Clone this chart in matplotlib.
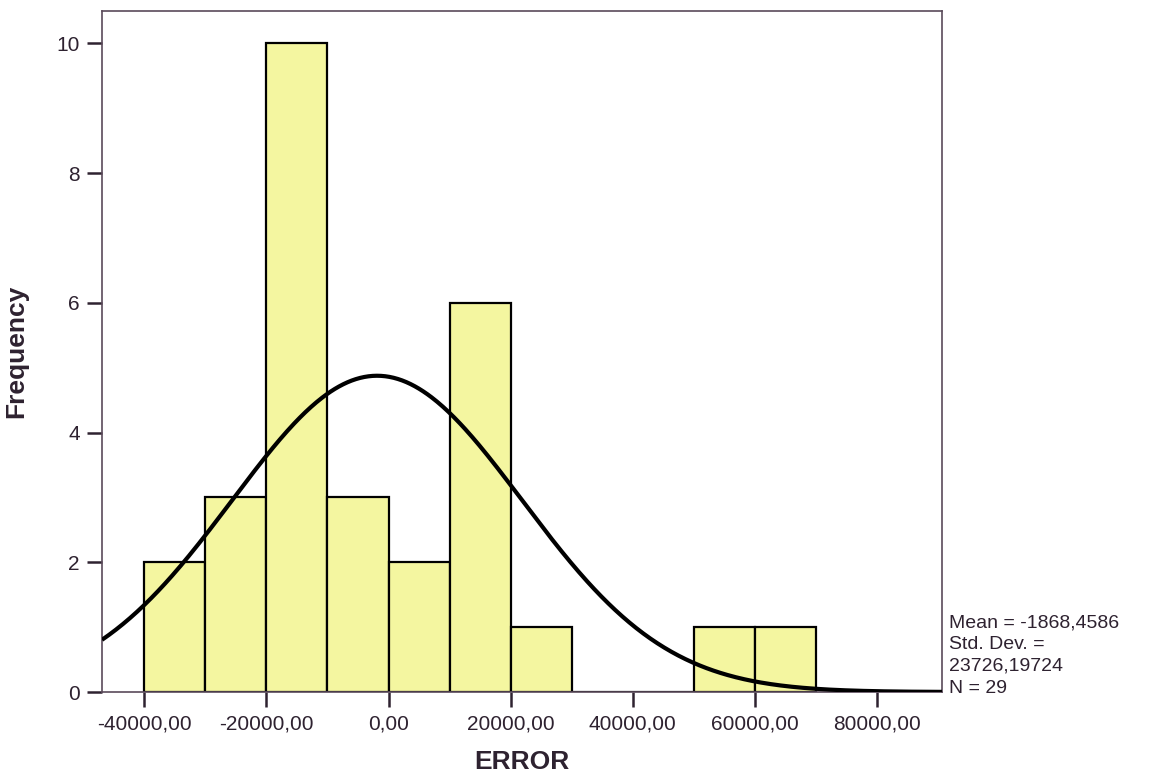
import numpy as np
import matplotlib
matplotlib.use("Agg")
import matplotlib.pyplot as plt
from matplotlib.ticker import FuncFormatter

# histogram of ERROR, bins of width 10000
bin_left = [-40000, -30000, -20000, -10000, 0, 10000, 20000, 30000, 40000, 50000, 60000]
counts = [2, 3, 10, 3, 2, 6, 1, 0, 0, 1, 1]
bin_width = 10000

mean = -1868.4586
std = 23726.19724
n = 29

xticks = [-40000, -20000, 0, 20000, 40000, 60000, 80000]
yticks = [0, 2, 4, 6, 8, 10]

plt.rcParams['font.family'] = ['Liberation Sans', 'DejaVu Sans']
txt = '#2e2230'

fig = plt.figure(figsize=(11.75, 7.78), dpi=100)
ax = fig.add_axes([0.0868, 0.1105, 0.7149, 0.8754])

ax.bar(bin_left, counts, width=bin_width, align='edge',
       color='#f4f6a0', edgecolor='black', linewidth=1.6, zorder=2)

# normal curve scaled to counts
xlo, xhi = -46900, 90600
xs = np.linspace(xlo, xhi, 600)
ys = n * bin_width / (std * np.sqrt(2 * np.pi)) * np.exp(-0.5 * ((xs - mean) / std) ** 2)
ax.plot(xs, ys, color='black', linewidth=3.0, zorder=3, solid_capstyle='butt')

ax.set_xlim(xlo, xhi)
ax.set_ylim(0, 10.5)
ax.set_xticks(xticks)
ax.set_yticks(yticks)
ax.xaxis.set_major_formatter(FuncFormatter(lambda v, p: ('%.2f' % v).replace('.', ',')))

for s in ax.spines.values():
    s.set_color('#5a4a5a')
    s.set_linewidth(1.2)

ax.tick_params(direction='out', length=11, width=1.8, color='#2e2230',
               labelsize=15, labelcolor=txt, pad=5)

ax.set_xlabel('ERROR', fontsize=19, fontweight='bold', color=txt, labelpad=12)
ax.set_ylabel('Frequency', fontsize=19, fontweight='bold', color=txt, labelpad=20)

stats = 'Mean = %s\nStd. Dev. =\n%s\nN = %d' % (
    ('%.4f' % mean).replace('.', ','), ('%.5f' % std).replace('.', ','), n)
fig.text(949 / 1175, 1 - 614 / 778, stats, fontsize=14, color=txt,
         va='top', ha='left', linespacing=1.38)

fig.savefig('out.png', dpi=100)
